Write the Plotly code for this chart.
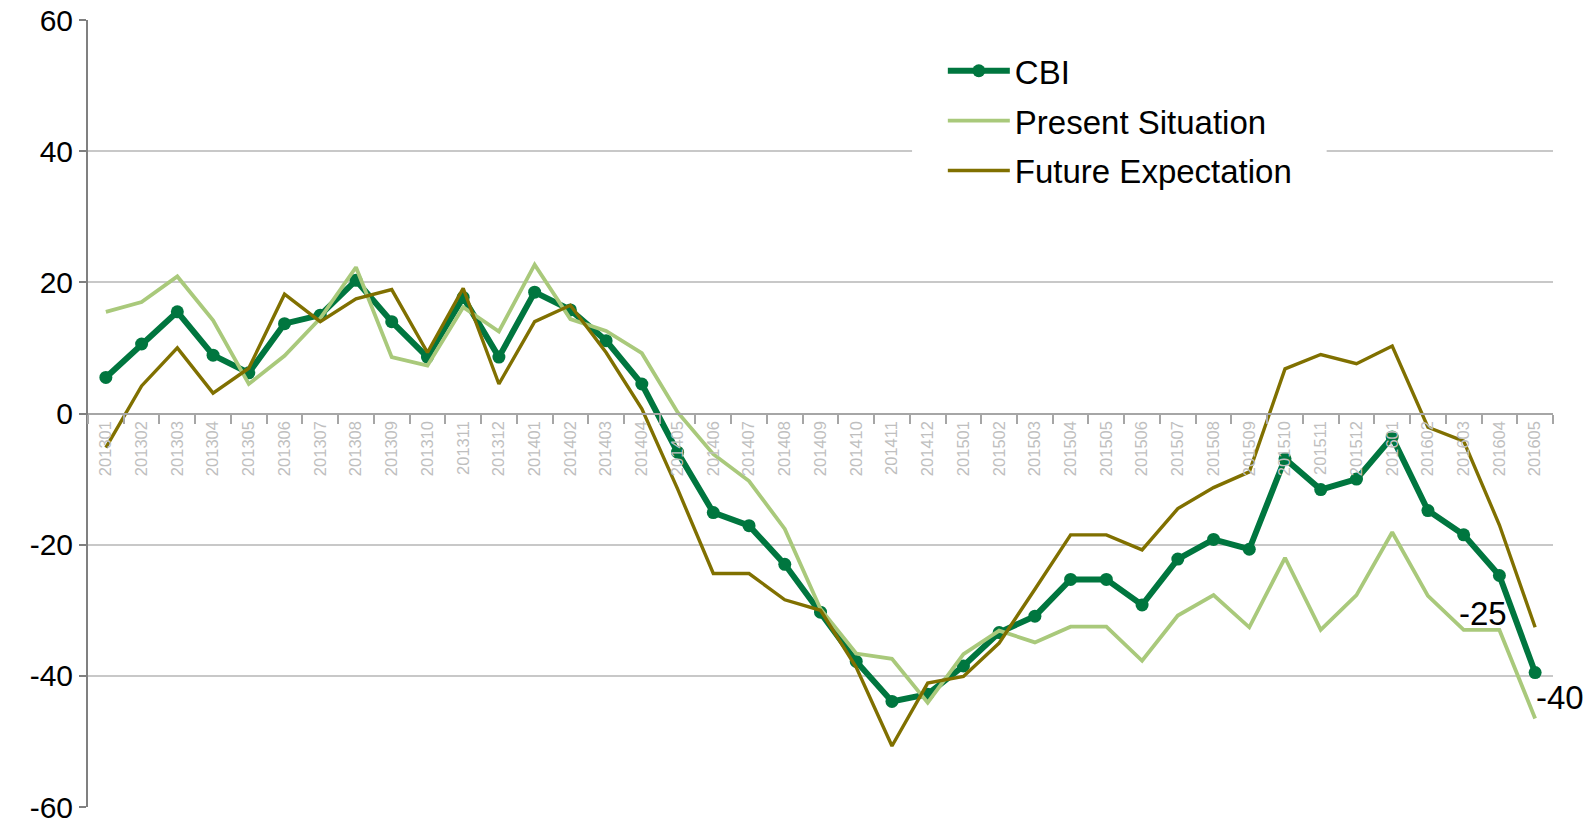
import plotly.graph_objects as go

months = ["201301","201302","201303","201304","201305","201306","201307","201308","201309","201310","201311","201312",
          "201401","201402","201403","201404","201405","201406","201407","201408","201409","201410","201411","201412",
          "201501","201502","201503","201504","201505","201506","201507","201508","201509","201510","201511","201512",
          "201601","201602","201603","201604","201605"]

cbi = [5.5, 10.6, 15.5, 8.9, 6.2, 13.7, 15.0, 20.3, 14.0, 8.6, 17.7, 8.6,
       18.5, 15.8, 11.1, 4.5, -5.9, -15.1, -17.1, -23.0, -30.3, -37.8, -43.9, -42.8,
       -38.5, -33.4, -30.9, -25.3, -25.3, -29.2, -22.2, -19.2, -20.7, -6.9, -11.6, -10.0,
       -3.6, -14.8, -18.5, -24.7, -39.5]

present = [15.5, 17.0, 20.9, 14.2, 4.5, 8.8, 14.5, 22.3, 8.6, 7.3, 16.2, 12.5,
           22.7, 14.4, 12.6, 9.2, 0.2, -6.2, -10.3, -17.6, -29.8, -36.6, -37.4, -44.1,
           -36.7, -33.1, -34.9, -32.5, -32.5, -37.7, -30.8, -27.7, -32.6, -22.0, -33.0, -27.7,
           -18.1, -27.8, -33.0, -33.0, -46.5]

future = [-5.2, 4.2, 10.0, 3.1, 6.9, 18.2, 14.0, 17.5, 18.9, 9.3, 19.1, 4.5,
          14.0, 16.5, 9.3, 0.7, -11.5, -24.4, -24.4, -28.4, -30.0, -38.7, -50.7, -41.1,
          -40.1, -35.0, -26.8, -18.5, -18.5, -20.8, -14.5, -11.3, -8.9, 6.8, 9.0, 7.6,
          10.3, -2.1, -4.2, -17.0, -32.6]

y_tickvals = [-60, -40, -20, 0, 20, 40, 60]
y_ticktext = ["-60", "-40", "-20", "0", "20", "40", "60"]

label_months = ["201604", "201605"]
label_texts = ["-25", "-40"]

FONT = "Liberation Sans, Arial, sans-serif"
C_CBI = "#00763F"
C_PRES = "#A9C97B"
C_FUT = "#807000"

fig = go.Figure()
fig.add_trace(go.Scatter(x=months, y=cbi, name="CBI", mode="lines+markers",
                         line=dict(color=C_CBI, width=6), marker=dict(color=C_CBI, size=13),
                         legendgroup="a"))
fig.add_trace(go.Scatter(x=months, y=present, name="Present Situation", mode="lines",
                         line=dict(color=C_PRES, width=3.8), legendgroup="b"))
fig.add_trace(go.Scatter(x=months, y=future, name="Future Expectation", mode="lines",
                         line=dict(color=C_FUT, width=3.4), legendgroup="c"))

# data labels
shifts = [(-16, -38), (25, -25)]
for m, t, (dx, dy) in zip(label_months, label_texts, shifts):
    i = months.index(m)
    fig.add_annotation(x=i, y=cbi[i], xref="x", yref="y", text=t, showarrow=False,
                       xanchor="center", yanchor="middle", xshift=dx, yshift=dy,
                       font=dict(family=FONT, size=33, color="black"))

# white mask behind legend (hides gridline like the reference legend box)
fig.add_shape(type="rect", xref="paper", yref="paper", x0=0.5625, x1=0.8455, y0=0.93, y1=0.80,
              fillcolor="white", line=dict(width=0), layer="above")

fig.update_layout(
    width=1593, height=823,
    margin=dict(l=80, r=48, t=12, b=24, autoexpand=False),
    plot_bgcolor="white", paper_bgcolor="white",
    font=dict(family=FONT, size=28, color="black"),
    showlegend=True,
    legend=dict(x=0.5835, y=0.971, xanchor="left", yanchor="top",
                bgcolor="rgba(0,0,0,0)", font=dict(family=FONT, size=33, color="black"),
                tracegroupgap=4, itemwidth=62),
    xaxis=dict(type="category", anchor="free", position=0.5, automargin=False,
               showline=True, linecolor="#A6A6A6", linewidth=2,
               ticks="outside", ticklen=9, tickcolor="#A6A6A6", tickwidth=2,
               tickson="boundaries", tickangle=-90,
               tickfont=dict(family=FONT, size=16.5, color="#BFBFBF"),
               showgrid=False, range=[-0.5, len(months) - 0.5]),
    yaxis=dict(range=[-60, 60], tickmode="array", tickvals=y_tickvals, ticktext=y_ticktext,
               automargin=False, ticklabeloverflow="allow", showline=True, linecolor="#808080", linewidth=2,
               ticks="outside", ticklen=7, tickcolor="#808080", tickwidth=2,
               showgrid=True, gridcolor="#C8C8C8", gridwidth=1.5, zeroline=False,
               tickfont=dict(family=FONT, size=30, color="black")),
)

fig.write_html("out.html")
